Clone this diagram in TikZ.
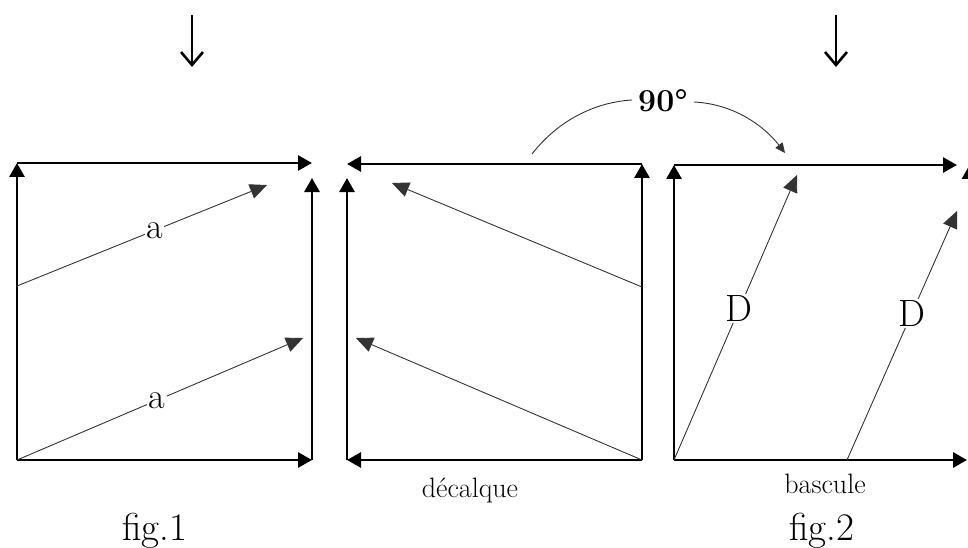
\documentclass[tikz,border=0pt]{standalone}
\usepackage{fontspec}
\usetikzlibrary{arrows.meta}
\begin{document}
\begin{tikzpicture}[x=1pt,y=-1pt,
  edge/.style={line width=2.8pt,-{Triangle[length=14pt,width=15pt]}},
  diag/.style={line width=0.9pt,draw=black!80,-{Triangle[length=17pt,width=15pt]}},
  lab/.style={fill=white,inner sep=1.5pt,font=\fontsize{36}{38}\selectfont},
  labD/.style={fill=white,inner sep=1.5pt,font=\fontsize{38}{40}\selectfont},
  captxt/.style={font=\fontsize{28}{30}\selectfont,anchor=base},
  figlab/.style={font=\fontsize{39}{42}\selectfont,anchor=base},
  down/.style={line width=2.4pt,-{Straight Barb[length=13pt,width=22pt,line width=2.6pt]}}]
\useasboundingbox (0,0) rectangle (968,548);

% top arrows
\coordinate (ta1) at (192,15); \coordinate (tb1) at (192,67);
\coordinate (ta2) at (836,15); \coordinate (tb2) at (836,67);
\draw[down] (ta1) -- (tb1);
\draw[down] (ta2) -- (tb2);

% ---- fig 1 square
\coordinate (A1) at (17,460); \coordinate (B1) at (312,460);
\coordinate (C1) at (312,163); \coordinate (D1) at (17,163);
\coordinate (C1r) at (312,178);
\draw[edge] (D1) -- (C1);
\draw[edge] (A1) -- (D1);
\draw[edge] (B1) -- (C1r);
\draw[edge] (A1) -- (B1);
\coordinate (p1s) at (17,286); \coordinate (p1e) at (267,185);
\coordinate (p2e) at (303,338);
\draw[diag] (p1s) -- node[lab,pos=0.55] (la1) {a} (p1e);
\draw[diag] (A1) -- node[lab,pos=0.49] (la2) {a} (p2e);

% ---- middle square
\coordinate (A2) at (347,460); \coordinate (B2) at (642,460);
\coordinate (C2) at (642,164); \coordinate (D2) at (347,164);
\coordinate (D2l) at (347,178);
\draw[edge] (C2) -- (D2);
\draw[edge] (A2) -- (D2l);
\draw[edge] (B2) -- (C2);
\draw[edge] (B2) -- (A2);
\coordinate (q1s) at (642,287); \coordinate (q1e) at (392,183);
\coordinate (q2e) at (356,338);
\draw[diag] (q1s) -- (q1e);
\draw[diag] (B2) -- (q2e);

% ---- right square
\coordinate (A3) at (674,460); \coordinate (B3) at (967,460);
\coordinate (C3) at (957,165); \coordinate (D3) at (674,165);
\coordinate (E3) at (969.5,460); \coordinate (F3) at (969.5,165);
\draw[edge] (D3) -- (C3);
\draw[edge] (A3) -- (D3);
\draw[edge] (E3) -- (F3);
\draw[edge] (A3) -- (B3);
\coordinate (r1e) at (797,175);
\coordinate (r2s) at (847,460); \coordinate (r2e) at (957,211);
\draw[diag] (A3) -- node[labD,pos=0.53] (lD1) {D} (r1e);
\draw[diag] (r2s) -- node[labD,pos=0.59] (lD2) {D} (r2e);

% ---- 90 degree curve
\node[font=\bfseries\fontsize{32}{34}\selectfont] (deg) at (663,101) {90°};
\coordinate (c90s) at (532,154);
\coordinate (c90a) at (632,100);
\coordinate (c90b) at (694,102);
\coordinate (c90e) at (785,153);
\draw[line width=0.9pt,draw=black!80] (c90s) .. controls (560,118) and (598,102) .. (c90a);
\draw[line width=0.9pt,draw=black!80,-{Triangle[length=10pt,width=9pt]}] (c90b) .. controls (735,104) and (765,127) .. (c90e);

% ---- captions
\node[captxt] (dec) at (470,497) {décalque};
\node[captxt] (bas) at (825,493) {bascule};
\node[figlab] (f1) at (155,540) {fig.1};
\node[figlab] (f2) at (822,540) {fig.2};
\end{tikzpicture}
\end{document}
